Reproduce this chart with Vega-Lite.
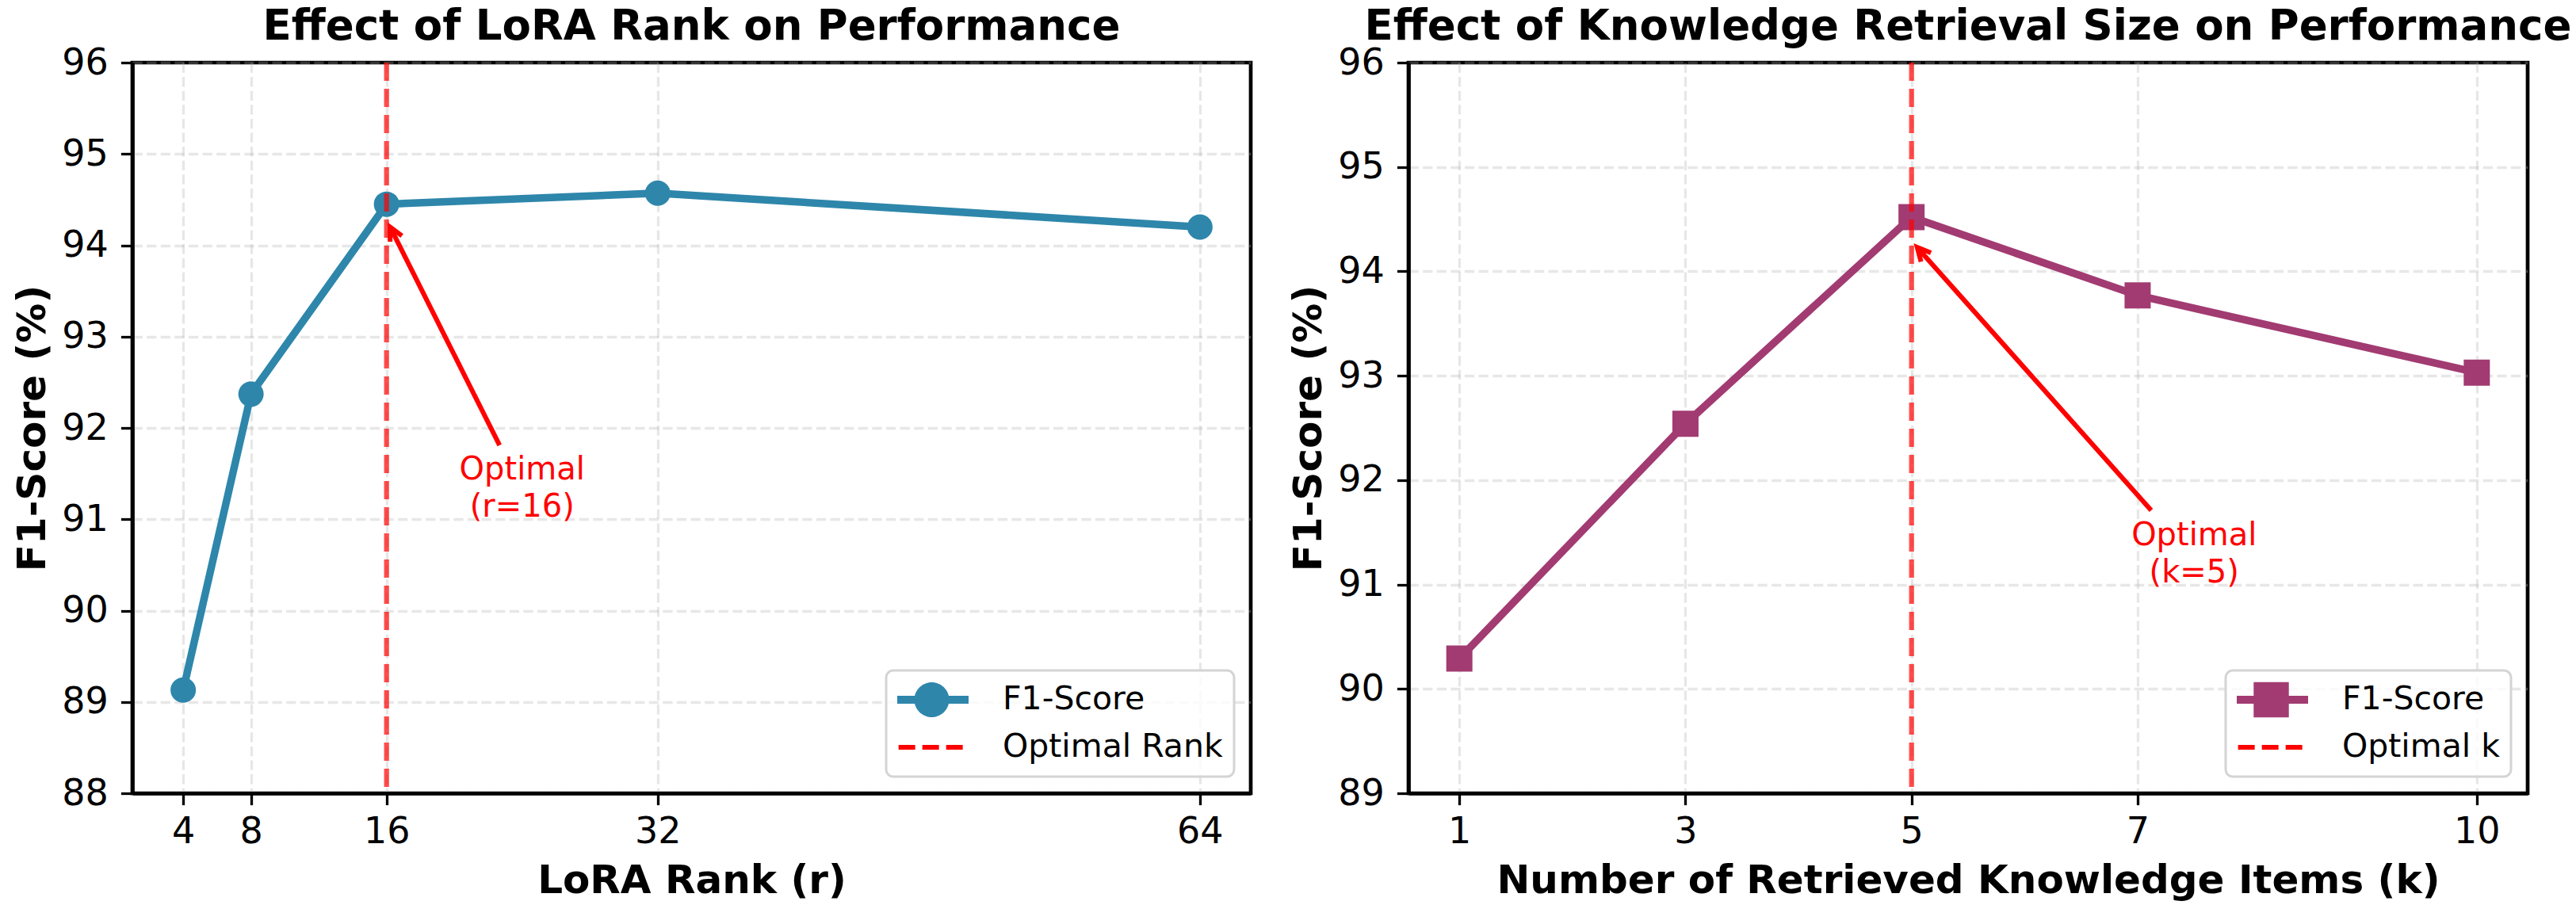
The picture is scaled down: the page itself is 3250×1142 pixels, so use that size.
{
  "$schema": "https://vega.github.io/schema/vega-lite/v6.json",
  "background": "white",
  "padding": {"left": 14, "top": 5, "right": 5, "bottom": 5},
  "datasets": {
    "lora": [
      {"rank": 4, "f1": 89.13, "series": "F1-Score"},
      {"rank": 8, "f1": 92.37, "series": "F1-Score"},
      {"rank": 16, "f1": 94.45, "series": "F1-Score"},
      {"rank": 32, "f1": 94.57, "series": "F1-Score"},
      {"rank": 64, "f1": 94.2, "series": "F1-Score"}
    ],
    "lora_opt": [{"rank": 16, "series": "Optimal Rank"}],
    "lora_ann": [{"rank": 24, "f1": 91.54, "label": "Optimal\n(r=16)", "tail_x": 22.67, "tail_y": 91.81, "tip_x": 16.21, "tip_y": 94.2}],
    "kret": [
      {"k": 1, "f1": 90.29, "series": "F1-Score"},
      {"k": 3, "f1": 92.54, "series": "F1-Score"},
      {"k": 5, "f1": 94.52, "series": "F1-Score"},
      {"k": 7, "f1": 93.77, "series": "F1-Score"},
      {"k": 10, "f1": 93.03, "series": "F1-Score"}
    ],
    "k_opt": [{"k": 5, "series": "Optimal k"}],
    "k_ann": [{"k": 7.5, "f1": 91.47, "label": "Optimal\n(k=5)", "tail_x": 7.12, "tail_y": 91.71, "tip_x": 5.05, "tip_y": 94.23}]
  },
  "config": {
    "font": "DejaVu Sans",
    "view": {"stroke": "black", "strokeWidth": 4.7},
    "axis": {
      "labelFont": "DejaVu Sans", "labelFontSize": 46, "labelColor": "black",
      "titleFont": "DejaVu Sans", "titleFontSize": 50, "titleFontWeight": "bold", "titleColor": "black",
      "tickColor": "black", "tickWidth": 3.3, "tickSize": 14.6,
      "domainColor": "black", "domainWidth": 4.7,
      "gridColor": "#b0b0b0", "gridOpacity": 0.3, "gridWidth": 3.3, "gridDash": [12.3, 5.3],
      "labelPadding": 12, "labelOverlap": false, "labelFlush": false, "format": "d"
    },
    "axisY": {"titlePadding": 11, "labelPadding": 16},
    "axisX": {"titlePadding": 14},
    "title": {"font": "DejaVu Sans", "fontSize": 53, "fontWeight": "bold", "color": "black", "frame": "group", "anchor": "middle", "offset": -5}
  },
  "spacing": 43,
  "resolve": {"scale": {"color": "independent", "x": "independent", "y": "independent"}, "legend": {"color": "independent"}},
  "hconcat": [
    {
      "width": 1411, "height": 922,
      "title": "Effect of LoRA Rank on Performance",
      "layer": [
        {
          "data": {"name": "lora"},
          "mark": {"type": "line", "strokeWidth": 9.5},
          "encoding": {
            "x": {"field": "rank", "type": "quantitative", "scale": {"domain": [1, 67], "nice": false, "zero": false}, "axis": {"values": [4, 8, 16, 32, 64], "title": "LoRA Rank (r)"}},
            "y": {"field": "f1", "type": "quantitative", "scale": {"domain": [88, 96], "nice": false, "zero": false}, "axis": {"values": [88, 89, 90, 91, 92, 93, 94, 95, 96], "title": "F1-Score (%)"}},
            "color": {
              "field": "series", "type": "nominal",
              "scale": {"domain": ["F1-Score", "Optimal Rank"], "range": ["#2E86AB", "#FF0000"]},
              "legend": {
                "title": null, "orient": "bottom-right", "offset": 21,
                "labelFont": "DejaVu Sans", "labelFontSize": 41, "labelColor": "black", "labelLimit": 0,
                "symbolSize": 8649, "symbolStrokeWidth": 10, "symbolOffset": 23, "labelOffset": 69, "clipHeight": 46,
                "padding": 14, "rowPadding": 14,
                "fillColor": "rgba(255,255,255,0.8)", "strokeColor": "#d4d4d4", "cornerRadius": 9,
                "encode": {
                  "legend": {"update": {"strokeWidth": {"value": 3}}},
                  "symbols": {"update": {
                    "size": {"value": 8649},
                    "shape": {"signal": "datum.value === 'F1-Score' ? 'M-1,0L1,0M0.365,0A0.365,0.365,0,1,1,-0.365,0A0.365,0.365,0,1,1,0.365,0' : 'M-0.9,0L0.9,0'"},
                    "stroke": {"signal": "datum.value === 'F1-Score' ? '#2E86AB' : '#FF4D4D'"},
                    "fill": {"signal": "datum.value === 'F1-Score' ? '#2E86AB' : 'transparent'"},
                    "strokeWidth": {"signal": "datum.value === 'F1-Score' ? 10 : 6"},
                    "strokeDash": {"signal": "datum.value === 'F1-Score' ? [1, 0] : [21, 9]"},
                    "opacity": {"value": 1}
                  }}
                }
              }
            }
          }
        },
        {
          "data": {"name": "lora"},
          "mark": {"type": "point", "filled": true, "shape": "circle", "size": 1024, "opacity": 1},
          "encoding": {
            "x": {"field": "rank", "type": "quantitative"},
            "y": {"field": "f1", "type": "quantitative"},
            "color": {"field": "series", "type": "nominal"}
          }
        },
        {
          "data": {"name": "lora_opt"},
          "mark": {"type": "rule", "strokeWidth": 6.25, "strokeDash": [23, 10], "opacity": 0.7},
          "encoding": {
            "x": {"field": "rank", "type": "quantitative"},
            "color": {"field": "series", "type": "nominal"}
          }
        },
        {
          "data": {"name": "lora_ann"},
          "mark": {"type": "rule", "color": "#FF0000", "strokeWidth": 6},
          "encoding": {
            "x": {"field": "tail_x", "type": "quantitative"},
            "y": {"field": "tail_y", "type": "quantitative"},
            "x2": {"field": "tip_x"},
            "y2": {"field": "tip_y"}
          }
        },
        {
          "data": {"name": "lora_ann"},
          "mark": {"type": "point", "shape": "M-0.5,1L0,0L0.5,1", "size": 1115, "filled": false, "color": "#FF0000", "strokeWidth": 6, "angle": 333.4, "opacity": 1},
          "encoding": {
            "x": {"field": "tip_x", "type": "quantitative"},
            "y": {"field": "tip_y", "type": "quantitative"}
          }
        },
        {
          "data": {"name": "lora_ann"},
          "mark": {"type": "text", "color": "#FF0000", "font": "DejaVu Sans", "fontSize": 40, "align": "center", "baseline": "middle", "lineBreak": "\n", "lineHeight": 47},
          "encoding": {
            "x": {"field": "rank", "type": "quantitative"},
            "y": {"field": "f1", "type": "quantitative"},
            "text": {"field": "label"}
          }
        }
      ]
    },
    {
      "width": 1412, "height": 922,
      "title": "Effect of Knowledge Retrieval Size on Performance",
      "layer": [
        {
          "data": {"name": "kret"},
          "mark": {"type": "line", "strokeWidth": 9.5},
          "encoding": {
            "x": {"field": "k", "type": "quantitative", "scale": {"domain": [0.55, 10.45], "nice": false, "zero": false}, "axis": {"values": [1, 3, 5, 7, 10], "title": "Number of Retrieved Knowledge Items (k)"}},
            "y": {"field": "f1", "type": "quantitative", "scale": {"domain": [89, 96], "nice": false, "zero": false}, "axis": {"values": [89, 90, 91, 92, 93, 94, 95, 96], "title": "F1-Score (%)"}},
            "color": {
              "field": "series", "type": "nominal",
              "scale": {"domain": ["F1-Score", "Optimal k"], "range": ["#A23B72", "#FF0000"]},
              "legend": {
                "title": null, "orient": "bottom-right", "offset": 21,
                "labelFont": "DejaVu Sans", "labelFontSize": 41, "labelColor": "black", "labelLimit": 0,
                "symbolSize": 8649, "symbolStrokeWidth": 10, "symbolOffset": 23, "labelOffset": 69, "clipHeight": 46,
                "padding": 14, "rowPadding": 14,
                "fillColor": "rgba(255,255,255,0.8)", "strokeColor": "#d4d4d4", "cornerRadius": 9,
                "encode": {
                  "legend": {"update": {"strokeWidth": {"value": 3}}},
                  "symbols": {"update": {
                    "size": {"value": 8649},
                    "shape": {"signal": "datum.value === 'F1-Score' ? 'M-1,0L1,0M0.37,-0.37L0.37,0.37L-0.37,0.37L-0.37,-0.37Z' : 'M-0.9,0L0.9,0'"},
                    "stroke": {"signal": "datum.value === 'F1-Score' ? '#A23B72' : '#FF4D4D'"},
                    "fill": {"signal": "datum.value === 'F1-Score' ? '#A23B72' : 'transparent'"},
                    "strokeWidth": {"signal": "datum.value === 'F1-Score' ? 10 : 6"},
                    "strokeDash": {"signal": "datum.value === 'F1-Score' ? [1, 0] : [21, 9]"},
                    "opacity": {"value": 1}
                  }}
                }
              }
            }
          }
        },
        {
          "data": {"name": "kret"},
          "mark": {"type": "point", "filled": true, "shape": "square", "size": 1089, "opacity": 1},
          "encoding": {
            "x": {"field": "k", "type": "quantitative"},
            "y": {"field": "f1", "type": "quantitative"},
            "color": {"field": "series", "type": "nominal"}
          }
        },
        {
          "data": {"name": "k_opt"},
          "mark": {"type": "rule", "strokeWidth": 6.25, "strokeDash": [23, 10], "opacity": 0.7},
          "encoding": {
            "x": {"field": "k", "type": "quantitative"},
            "color": {"field": "series", "type": "nominal"}
          }
        },
        {
          "data": {"name": "k_ann"},
          "mark": {"type": "rule", "color": "#FF0000", "strokeWidth": 6},
          "encoding": {
            "x": {"field": "tail_x", "type": "quantitative"},
            "y": {"field": "tail_y", "type": "quantitative"},
            "x2": {"field": "tip_x"},
            "y2": {"field": "tip_y"}
          }
        },
        {
          "data": {"name": "k_ann"},
          "mark": {"type": "point", "shape": "M-0.5,1L0,0L0.5,1", "size": 1115, "filled": false, "color": "#FF0000", "strokeWidth": 6, "angle": 318.4, "opacity": 1},
          "encoding": {
            "x": {"field": "tip_x", "type": "quantitative"},
            "y": {"field": "tip_y", "type": "quantitative"}
          }
        },
        {
          "data": {"name": "k_ann"},
          "mark": {"type": "text", "color": "#FF0000", "font": "DejaVu Sans", "fontSize": 40, "align": "center", "baseline": "middle", "lineBreak": "\n", "lineHeight": 47},
          "encoding": {
            "x": {"field": "k", "type": "quantitative"},
            "y": {"field": "f1", "type": "quantitative"},
            "text": {"field": "label"}
          }
        }
      ]
    }
  ]
}
